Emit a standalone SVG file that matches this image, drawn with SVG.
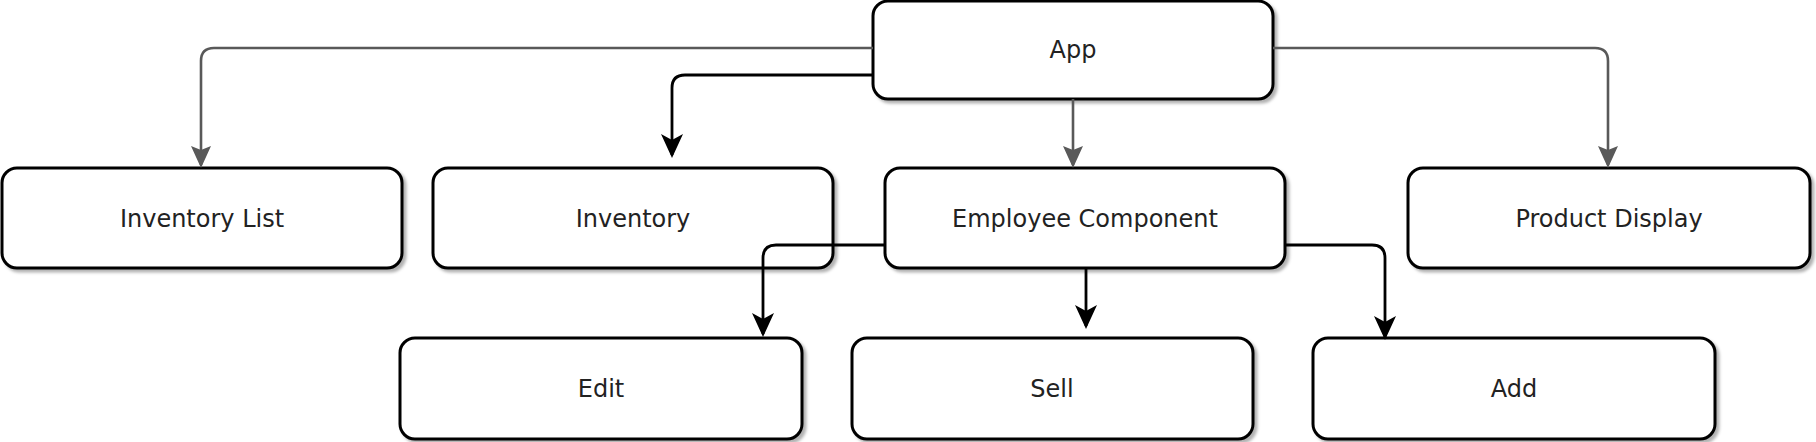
<svg xmlns="http://www.w3.org/2000/svg" width="1816" height="442" viewBox="0 0 1816 442">
<style>
.box{fill:#fff;stroke:#000;stroke-width:3;filter:url(#sh)}
.lbl{font-family:"DejaVu Sans",Verdana,sans-serif;font-size:24px;fill:#222;text-anchor:middle}
.cg{fill:none;stroke:#595959;stroke-width:2.6}
.cb{fill:none;stroke:#000;stroke-width:2.8}
</style>
<defs>
<filter id="sh" x="-5%" y="-10%" width="115%" height="130%">
<feDropShadow dx="3" dy="3" stdDeviation="1.5" flood-color="#000" flood-opacity="0.3"/>
</filter>
<marker id="ab" markerUnits="userSpaceOnUse" viewBox="0 0 24 22" markerWidth="24" markerHeight="22" refX="21" refY="11" orient="auto">
<path d="M0,0 L24,11 L0,22 L6,11 Z" fill="#000"/>
</marker>
<marker id="ag" markerUnits="userSpaceOnUse" viewBox="0 0 22 20" markerWidth="22" markerHeight="20" refX="19" refY="10" orient="auto">
<path d="M0,0 L22,10 L0,20 L4,10 Z" fill="#595959"/>
</marker>
</defs>
<rect width="1816" height="442" fill="#fff"/>
<g id="app"><rect class="box" x="873" y="1" width="400" height="98" rx="15"/><text class="lbl" x="1073" y="58">App</text></g>
<g id="inventory-list"><rect class="box" x="2" y="168" width="400" height="100" rx="15"/><text class="lbl" x="202" y="227">Inventory List</text></g>
<g id="inventory"><rect class="box" x="433" y="168" width="400" height="100" rx="15"/><text class="lbl" x="633" y="227">Inventory</text></g>
<g id="employee"><rect class="box" x="885" y="168" width="400" height="100" rx="15"/><text class="lbl" x="1085" y="227">Employee Component</text></g>
<g id="product-display"><rect class="box" x="1408" y="168" width="402" height="100" rx="15"/><text class="lbl" x="1609" y="227">Product Display</text></g>
<g id="edit"><rect class="box" x="400" y="338" width="402" height="101" rx="15"/><text class="lbl" x="601" y="397">Edit</text></g>
<g id="sell"><rect class="box" x="852" y="338" width="401" height="101" rx="15"/><text class="lbl" x="1052" y="397">Sell</text></g>
<g id="add"><rect class="box" x="1313" y="338" width="402" height="101" rx="15"/><text class="lbl" x="1514" y="397">Add</text></g>
<g id="connectors">
<path class="cg" d="M873,48 H214 Q201,48 201,61 V165" marker-end="url(#ag)"/>
<path class="cb" d="M873,75 H685 Q672,75 672,88 V155" marker-end="url(#ab)"/>
<path class="cg" d="M1073,99 V165" marker-end="url(#ag)"/>
<path class="cg" d="M1273,48 H1595 Q1608,48 1608,61 V165" marker-end="url(#ag)"/>
<path class="cb" d="M885,245 H776 Q763,245 763,258 V334" marker-end="url(#ab)"/>
<path class="cb" d="M1086,268 V326" marker-end="url(#ab)"/>
<path class="cb" d="M1285,245 H1372 Q1385,245 1385,258 V337" marker-end="url(#ab)"/>
</g>
</svg>
